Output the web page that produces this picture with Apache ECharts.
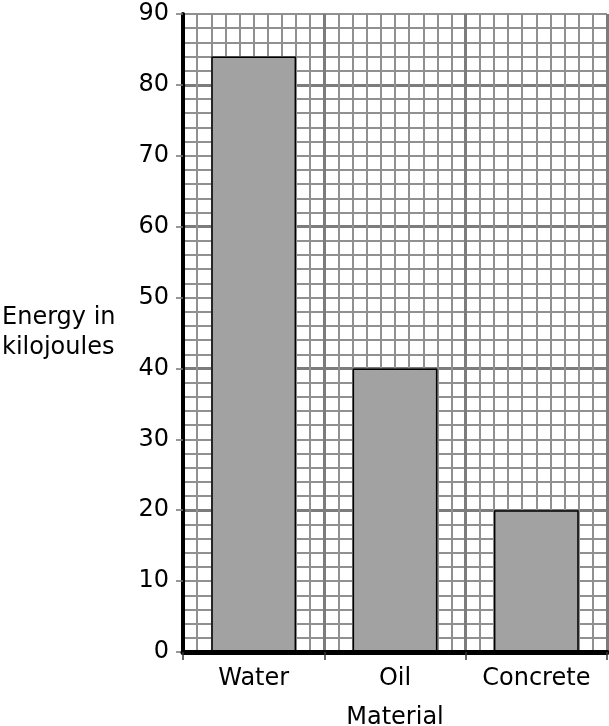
<!DOCTYPE html>
<html>
<head>
<meta charset="utf-8">
<script src="https://cdn.jsdelivr.net/npm/echarts@6/dist/echarts.min.js"></script>
<style>
  html, body { margin: 0; padding: 0; background: #fff; }
  #chart { width: 609px; height: 726px; }
</style>
</head>
<body>
<div id="chart"></div>
<script>
const categories = ['Water', 'Oil', 'Concrete'];
const energyValues = [84, 40, 20];
const yTickValues = [0, 10, 20, 30, 40, 50, 60, 70, 80, 90];
const yAxisTitle = 'Energy in\nkilojoules';
const xAxisTitle = 'Material';

const FONT = 'DejaVu Sans';
const MINOR = '#909090';
const MAJOR = '#7c7c7c';

const chart = echarts.init(document.getElementById('chart'), null, { renderer: 'canvas' });
chart.setOption({
  animation: false,
  backgroundColor: '#fff',
  grid: { left: 183, right: 2, top: 14, bottom: 74, containLabel: false, outerBoundsMode: 'none' },
  xAxis: [
    {
      type: 'category',
      data: categories,
      z: 10,
      axisLine: { show: true, lineStyle: { color: '#000', width: 5 } },
      axisTick: { show: true, length: 8, lineStyle: { color: '#333', width: 1.5 } },
      axisLabel: { color: '#000', fontFamily: FONT, fontSize: 24, margin: 15 },
      splitLine: { show: false },
      name: xAxisTitle,
      nameLocation: 'middle',
      nameGap: 54,
      nameTextStyle: { color: '#000', fontFamily: FONT, fontSize: 24 }
    },
    {
      type: 'value',
      position: 'top',
      min: 0, max: 30, interval: 10,
      axisLine: { show: false }, axisTick: { show: false }, axisLabel: { show: false },
      splitLine: { show: true, lineStyle: { color: MAJOR, width: 3 } },
      minorTick: { show: false, splitNumber: 10 },
      minorSplitLine: { show: true, lineStyle: { color: MINOR, width: 2 } }
    }
  ],
  yAxis: [
    {
      type: 'value',
      min: 0, max: 90, interval: 10,
      axisLine: { show: true, lineStyle: { color: '#000', width: 4 } },
      axisTick: { show: true, length: 7, lineStyle: { color: '#777', width: 1.5 } },
      axisLabel: {
        color: '#000', fontFamily: FONT, fontSize: 24, margin: 14,
        formatter: function (v) { return yTickValues.indexOf(v) >= 0 ? String(v) : ''; }
      },
      splitLine: { show: true, lineStyle: { color: MINOR, width: 2 } },
      minorTick: { show: false, splitNumber: 5 },
      minorSplitLine: { show: true, lineStyle: { color: MINOR, width: 2 } },
      name: yAxisTitle,
      nameLocation: 'middle',
      nameRotate: 0,
      nameGap: 181,
      nameTextStyle: { color: '#000', fontFamily: FONT, fontSize: 24, align: 'left', lineHeight: 30, padding: [0, 0, 6, 0] }
    },
    {
      type: 'value',
      position: 'right',
      min: 0, max: 90, interval: 20,
      axisLine: { show: false }, axisTick: { show: false }, axisLabel: { show: false },
      splitLine: { show: true, lineStyle: { color: [MAJOR, MAJOR, MAJOR, MAJOR, MAJOR, 'rgba(0,0,0,0)'], width: 3 } }
    }
  ],
  series: [
    {
      type: 'bar',
      xAxisIndex: 0,
      yAxisIndex: 0,
      data: energyValues,
      barWidth: '60%',
      itemStyle: { color: '#a2a2a2', borderColor: '#000', borderWidth: 1.5 }
    }
  ]
});
</script>
</body>
</html>
